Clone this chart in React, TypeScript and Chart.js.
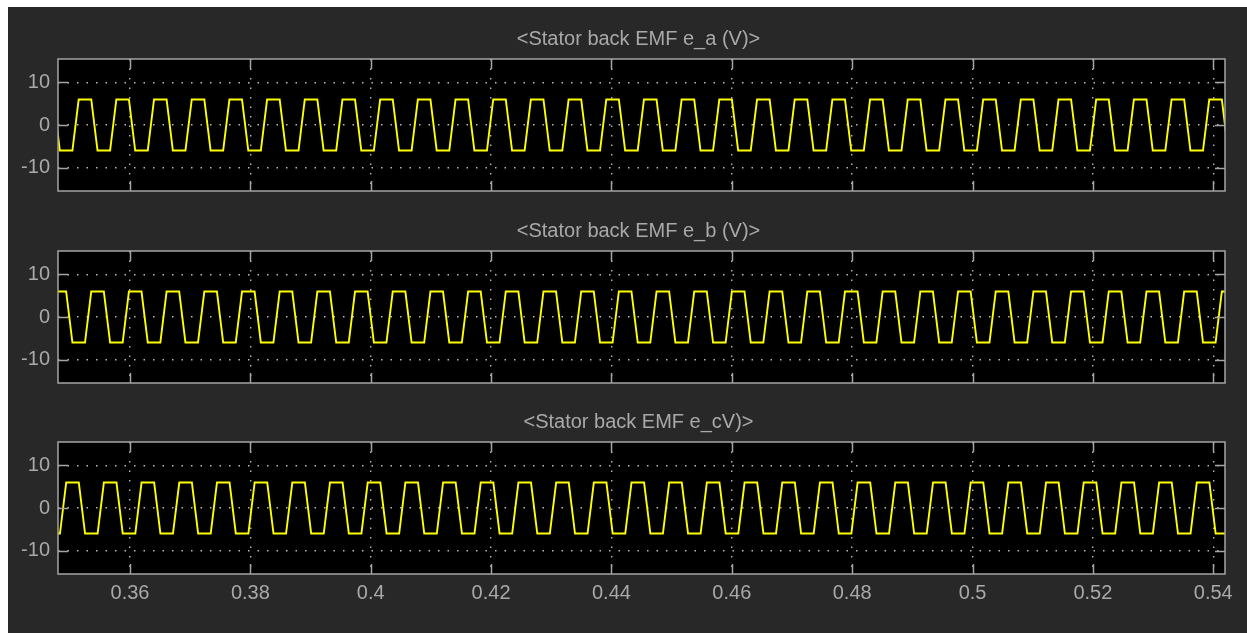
import React, { useEffect, useRef } from "react";
import { Chart, registerables } from "chart.js";

Chart.register(...registerables);

// ---- axis data ----
const xTickValues = [0.36, 0.38, 0.4, 0.42, 0.44, 0.46, 0.48, 0.5, 0.52, 0.54];
const xTickLabels = ["0.36", "0.38", "0.4", "0.42", "0.44", "0.46", "0.48", "0.5", "0.52", "0.54"];
const yTickValues = [-10, 0, 10];
const yTickLabels = ["-10", "0", "10"];
const xMin = 0.34804;
const xMax = 0.54195;
const yMin = -15.5;
const yMax = 15.5;

const plotTitles = [
  "<Stator back EMF e_a (V)>",
  "<Stator back EMF e_b (V)>",
  "<Stator back EMF e_cV)>",
];

// ---- series data: centre time of each positive flat top (s) ----
const eaPeakTimes = [
  0.34626, 0.35252, 0.35878, 0.36504, 0.37131, 0.37757, 0.38383, 0.39009, 0.39635, 0.40262,
  0.40888, 0.41514, 0.4214, 0.42766, 0.43393, 0.44019, 0.44645, 0.45271, 0.45897, 0.46524,
  0.4715, 0.47776, 0.48402, 0.49028, 0.49655, 0.50281, 0.50907, 0.51533, 0.52159, 0.52786,
  0.53412, 0.54038,
];
const ebPeakTimes = [
  0.34835, 0.35461, 0.36087, 0.36713, 0.3734, 0.37966, 0.38592, 0.39218, 0.39844, 0.40471,
  0.41097, 0.41723, 0.42349, 0.42975, 0.43602, 0.44228, 0.44854, 0.4548, 0.46106, 0.46733,
  0.47359, 0.47985, 0.48611, 0.49237, 0.49864, 0.5049, 0.51116, 0.51742, 0.52368, 0.52995,
  0.53621, 0.54247,
];
const ecPeakTimes = [
  0.34419, 0.35045, 0.35671, 0.36297, 0.36924, 0.3755, 0.38176, 0.38802, 0.39428, 0.40055,
  0.40681, 0.41307, 0.41933, 0.42559, 0.43186, 0.43812, 0.44438, 0.45064, 0.4569, 0.46317,
  0.46943, 0.47569, 0.48195, 0.48821, 0.49448, 0.50074, 0.507, 0.51326, 0.51952, 0.52579,
  0.53205, 0.53831,
];

// one trapezoid cycle, relative to the flat-top centre: corner time offsets (s) and levels (V)
const cycleOffsets = [-0.001044, 0.001044, 0.002087, 0.004175];
const cycleLevels = [6, 6, -6, -6];

const seriesPeaks = [eaPeakTimes, ebPeakTimes, ecPeakTimes];

function buildPoints(peaks: number[]) {
  const pts: { x: number; y: number }[] = [];
  peaks.forEach((c) => {
    cycleOffsets.forEach((o, j) => pts.push({ x: c + o, y: cycleLevels[j] }));
  });
  return pts;
}

// ---- styling ----
const PANEL_BG = "#282828";
const TEXT_COLOR = "#a9a9a9";
const FRAME_COLOR = "#a4a4a4";
const GRID_COLOR = "rgba(205,205,205,0.9)";
const TRACE_COLOR = "#ffff00";
const FONT_FAMILY = "'Liberation Sans', Arial, sans-serif";
const CANVAS_W = 1239;

const layouts = [
  { top: 0, height: 190, showX: false },
  { top: 192, height: 190, showX: false },
  { top: 383, height: 243, showX: true },
];

const framePlugin = {
  id: "scopeFrame",
  beforeDraw(chart: any) {
    const { ctx, chartArea: a } = chart;
    ctx.save();
    ctx.fillStyle = "#000000";
    ctx.fillRect(a.left, a.top, a.right - a.left, a.bottom - a.top);
    ctx.restore();
  },
  afterDraw(chart: any, _args: any, opts: any) {
    const { ctx, chartArea: a, scales } = chart;
    const tl = 10;
    ctx.save();
    ctx.strokeStyle = FRAME_COLOR;
    ctx.lineWidth = 1.5;
    ctx.beginPath();
    xTickValues.forEach((v) => {
      const px = Math.round(scales.x.getPixelForValue(v)) + 0.5;
      ctx.moveTo(px, a.top);
      ctx.lineTo(px, a.top + tl);
      ctx.moveTo(px, a.bottom);
      ctx.lineTo(px, a.bottom - tl);
    });
    yTickValues.forEach((v) => {
      const py = Math.round(scales.y.getPixelForValue(v)) + 0.5;
      ctx.moveTo(a.left, py);
      ctx.lineTo(a.left + tl, py);
      ctx.moveTo(a.right, py);
      ctx.lineTo(a.right - tl, py);
    });
    ctx.stroke();
    ctx.strokeRect(a.left, a.top, a.right - a.left, a.bottom - a.top);
    // plot title, centred over the plot area
    if (opts && opts.title) {
      ctx.fillStyle = TEXT_COLOR;
      ctx.font = `20px ${FONT_FAMILY}`;
      ctx.textAlign = "center";
      ctx.textBaseline = "middle";
      ctx.fillText(opts.title, (a.left + a.right) / 2 - 3, a.top - 20);
    }
    ctx.restore();
  },
};

function ScopePlot({ index }: { index: number }) {
  const ref = useRef<HTMLCanvasElement | null>(null);
  const lay = layouts[index];

  useEffect(() => {
    if (!ref.current) return;
    const showX = lay.showX;
    const chart = new Chart(ref.current, {
      type: "line",
      data: {
        datasets: [
          {
            label: plotTitles[index],
            data: buildPoints(seriesPeaks[index]),
            borderColor: TRACE_COLOR,
            borderWidth: 1.9,
            pointRadius: 0,
            tension: 0,
            fill: false,
          },
        ],
      },
      options: {
        responsive: false,
        animation: false,
        devicePixelRatio: 1,
        layout: { padding: { left: 0, right: 22, top: 52, bottom: showX ? 0 : 6 } },
        plugins: {
          legend: { display: false },
          tooltip: { enabled: false },
          title: { display: false },
          scopeFrame: { title: plotTitles[index] },
        },
        scales: {
          x: {
            type: "linear",
            min: xMin,
            max: xMax,
            afterBuildTicks: (s: any) => {
              s.ticks = xTickValues.map((v) => ({ value: v }));
            },
            afterFit: (s: any) => {
              s.height = showX ? 59 : 0;
              s.paddingLeft = 0;
              s.paddingRight = 0;
            },
            ticks: {
              display: showX,
              autoSkip: false,
              maxRotation: 0,
              padding: 7,
              color: TEXT_COLOR,
              font: { family: FONT_FAMILY, size: 20 },
              callback: (_v: any, i: number) => xTickLabels[i],
            },
            grid: { color: GRID_COLOR, lineWidth: 1.4, drawTicks: false },
            border: { display: false, dash: [1.5, 8] },
          },
          y: {
            type: "linear",
            min: yMin,
            max: yMax,
            afterBuildTicks: (s: any) => {
              s.ticks = yTickValues.map((v) => ({ value: v }));
            },
            afterFit: (s: any) => {
              s.width = 50;
              s.paddingTop = 0;
              s.paddingBottom = 0;
            },
            ticks: {
              padding: 8,
              color: TEXT_COLOR,
              font: { family: FONT_FAMILY, size: 20 },
              callback: (_v: any, i: number) => yTickLabels[i],
            },
            grid: { color: GRID_COLOR, lineWidth: 1.4, drawTicks: false },
            border: { display: false, dash: [1.5, 8] },
          },
        },
      },
      plugins: [framePlugin],
    } as any);
    return () => chart.destroy();
  }, [index]);

  return (
    <canvas
      ref={ref}
      width={CANVAS_W}
      height={lay.height}
      style={{
        position: "absolute",
        left: 0,
        top: lay.top,
        width: CANVAS_W,
        height: lay.height,
        display: "block",
      }}
    />
  );
}

export default function App() {
  return (
    <div
      style={{
        position: "absolute",
        left: 8,
        top: 7,
        width: CANVAS_W,
        height: 626,
        background: PANEL_BG,
        overflow: "hidden",
      }}
    >
      <ScopePlot index={0} />
      <ScopePlot index={1} />
      <ScopePlot index={2} />
    </div>
  );
}
